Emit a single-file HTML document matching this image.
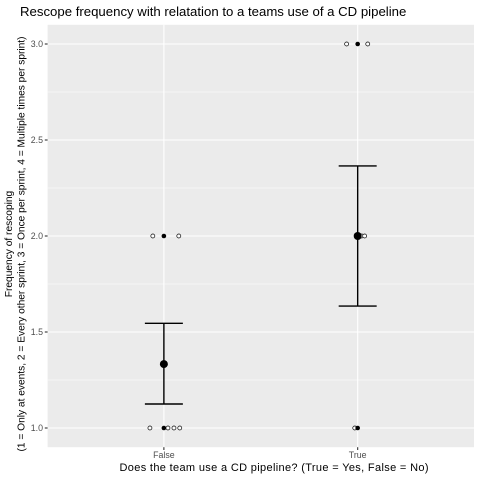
<!DOCTYPE html>
<html><head><meta charset="utf-8"><style>
body{margin:0;background:#fff;font-family:"Liberation Sans",sans-serif}
svg{display:block}
</style></head><body>
<svg id="chart" width="480" height="480" xmlns="http://www.w3.org/2000/svg">
<rect width="480" height="480" fill="#fff"/>
<text x="20" y="16" font-size="13.2" fill="#000">Rescope frequency with relatation to a teams use of a CD pipeline</text>
<rect x="47.6" y="24.8" width="426.4" height="422.4" fill="#ebebeb"/>
<g id="grid"></g>
<g id="marks"></g>
<g id="axes"></g>
<text x="274" y="471" font-size="11" text-anchor="middle" textLength="309">Does the team use a CD pipeline? (True = Yes, False = No)</text>
<text transform="translate(12,244) rotate(-90)" font-size="10.2" text-anchor="middle"><tspan x="0" dy="0">Frequency of rescoping</tspan><tspan x="0" dy="12.5">(1 = Only at events, 2 = Every other sprint, 3 = Once per sprint, 4 = Multiple times per sprint)</tspan></text>
</svg>
<script>
const categories = ["False", "True"];
const yTicks = [1.0, 1.5, 2.0, 2.5, 3.0];
const yTickLabels = ["1.0", "1.5", "2.0", "2.5", "3.0"];
const pointCat = [1,1,1,1,1,1,1,1, 2,2,2,2,2,2,2,2];
const pointVal = [2,2,2,1,1,1,1,1, 3,3,3,2,2,2,1,1];
const pointOffset = [-0.057,0,0.077,-0.072,0,0.021,0.052,0.082, -0.057,0,0.052,0,0.021,0.036,-0.015,0];
const pointFilled = [0,1,0,0,1,0,0,0, 0,1,0,1,0,0,0,1];
const means = [1.333, 2.0];
const ciLow = [1.125, 1.635];
const ciHigh = [1.545, 2.365];

const NS = "http://www.w3.org/2000/svg";
const X = v => 47.6 + (v - 0.4) * 193.8;
const Y = v => 428 - (v - 1) * 192;
function mk(tag, attrs, parent){
  const e = document.createElementNS(NS, tag);
  for (const k in attrs) e.setAttribute(k, attrs[k]);
  parent.appendChild(e); return e;
}
const grid = document.getElementById("grid"), marks = document.getElementById("marks"), axes = document.getElementById("axes");
for (let i = 0; i < yTicks.length - 1; i++) {
  const l = mk("line", {x1:47.6, x2:474, y1:Y((yTicks[i]+yTicks[i+1])/2), y2:Y((yTicks[i]+yTicks[i+1])/2), stroke:"#fff", "stroke-width":0.6}, grid);
  
  
}
yTicks.forEach((t, i) => {
  const l = mk("line", {x1:47.6, x2:474, y1:Y(t), y2:Y(t), stroke:"#fff", "stroke-width":1.1}, grid);
  
  
  const tk = mk("line", {x1:44.8, x2:47.6, y1:Y(t), y2:Y(t), stroke:"#333", "stroke-width":1.1}, axes);
  
  
  const tx = mk("text", {x:43, y:Y(t)+3, "font-size":8.8, fill:"#4d4d4d", "text-anchor":"end"}, axes);
  tx.textContent = yTickLabels[i];
  
  
});
categories.forEach((c, i) => {
  const x = X(i + 1);
  const l = mk("line", {x1:x, x2:x, y1:24.8, y2:447.2, stroke:"#fff", "stroke-width":1.1}, grid);
  
  
  const tk = mk("line", {x1:x, x2:x, y1:447.2, y2:450, stroke:"#333", "stroke-width":1.1}, axes);
  
  
  const tx = mk("text", {x:x, y:458, "font-size":8.8, fill:"#4d4d4d", "text-anchor":"middle"}, axes);
  tx.textContent = c;
  
  
});
pointVal.forEach((v, i) => {
  const cx = X(pointCat[i] + pointOffset[i]), cy = Y(v);
  const p = mk("circle", pointFilled[i] ? {cx, cy, r:2.3, fill:"#000"} : {cx, cy, r:2, fill:"#fff", stroke:"#000", "stroke-width":0.7}, marks);
  
  
});
means.forEach((m, i) => {
  const x = X(i + 1), hw = 19;
  const g = mk("g", {stroke:"#000", "stroke-width":1.4}, marks);
  
  
  mk("line", {x1:x, x2:x, y1:Y(ciLow[i]), y2:Y(ciHigh[i])}, g);
  mk("line", {x1:x-hw, x2:x+hw, y1:Y(ciLow[i]), y2:Y(ciLow[i])}, g);
  mk("line", {x1:x-hw, x2:x+hw, y1:Y(ciHigh[i]), y2:Y(ciHigh[i])}, g);
  const c = mk("circle", {cx:x, cy:Y(m), r:4, fill:"#000"}, marks);
  
  
});
</script>
</body></html>
